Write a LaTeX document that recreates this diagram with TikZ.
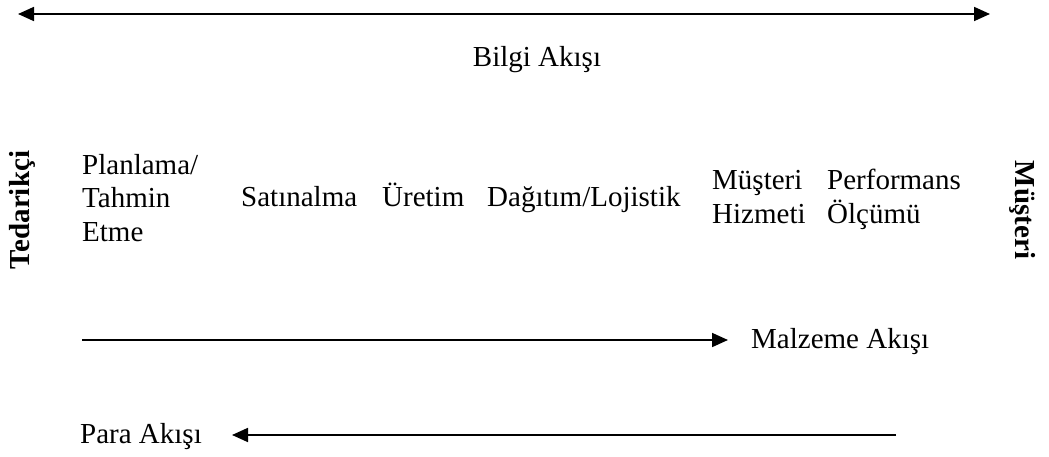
\documentclass[tikz,border=0pt]{standalone}
\usepackage{fontspec}
\setmainfont{Liberation Serif}
\usetikzlibrary{arrows.meta}
\begin{document}
\begin{tikzpicture}[x=1pt,y=-1pt,
  tip/.style={Triangle[length=16pt,width=14pt]},
  flow/.style={line width=1.8pt,-{Triangle[length=16pt,width=14pt]}},
  lbl/.style={font=\fontsize{29}{33.5}\selectfont,inner sep=0pt,anchor=base west,align=left},
  side/.style={font=\fontsize{29}{34}\selectfont\bfseries,inner sep=0pt}]
\useasboundingbox (0,0) rectangle (1049,457);
% top information flow
\coordinate (bl) at (18,14);
\coordinate (br) at (990,14);
\draw[line width=1.8pt,{Triangle[length=16pt,width=14pt]}-{Triangle[length=16pt,width=14pt]}] (bl) -- (br);
\node[lbl,anchor=base] (bilgi) at (537,67) {Bilgi Akışı};
% side labels
\node[side,rotate=90] (ted) at (22,210) {Tedarikçi};
\node[side,rotate=-90] (mus) at (1023,210) {Müşteri};
% process steps
\node[lbl] (plan) at (82,241) {Planlama/\\Tahmin\\Etme};
\node[lbl] (sat) at (241,207) {Satınalma};
\node[lbl] (ure) at (382,207) {Üretim};
\node[lbl] (dag) at (487,207) {Dağıtım/Lojistik};
\node[lbl] (hiz) at (712,223) {Müşteri\\Hizmeti};
\node[lbl] (perf) at (827,223) {Performans\\Ölçümü};
% material flow
\coordinate (ms) at (82,340);
\node[lbl] (malz) at (751,348) {Malzeme Akışı};
\coordinate (me) at (728,340);
\draw[flow] (ms) -- (me);
% money flow
\node[lbl] (para) at (80,443) {Para Akışı};
\coordinate (ps) at (896,435);
\coordinate (pe) at (232,435);
\draw[flow] (ps) -- (pe);
\end{tikzpicture}
\end{document}
